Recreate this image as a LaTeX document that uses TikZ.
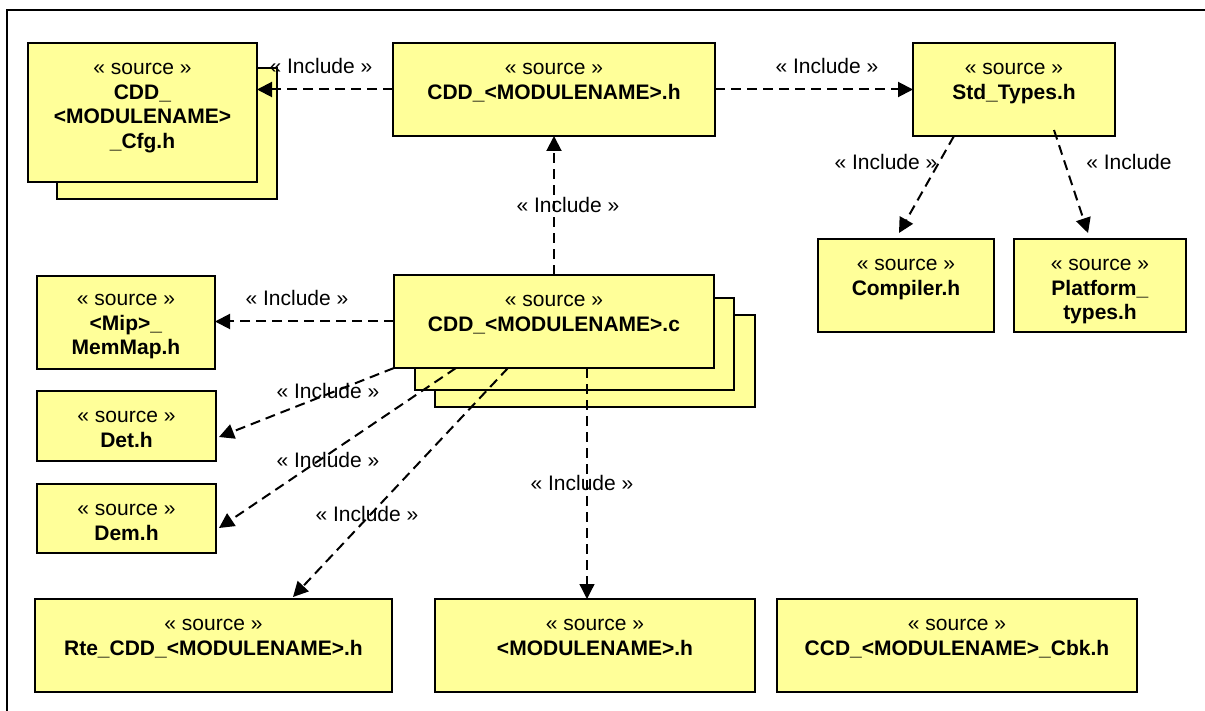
\documentclass[tikz,border=0pt]{standalone}
\usepackage{fontspec}
\setmainfont{Liberation Sans}
\usetikzlibrary{positioning,arrows.meta}
\definecolor{srcyellow}{RGB}{255,255,153}

\begin{document}
\begin{tikzpicture}[x=1pt,y=-1pt,
  >={Triangle[length=15pt,width=15pt]},
  src/.style={draw,line width=2pt,fill=srcyellow,inner sep=0pt,outer sep=0pt,anchor=north west},
  stereo/.style={anchor=north,yshift=-14.5pt,inner sep=0pt,align=center,font=\fontsize{21}{24.5}\selectfont},
  lbl/.style={font=\fontsize{21}{24.5}\selectfont,inner sep=0pt},
  inc/.style={line width=2pt,dash pattern=on 10pt off 6pt,->}]
\useasboundingbox (0,0) rectangle (1205,711);
\draw[line width=2pt] (7,10) rectangle (1215,725);

% source files
\node[src,minimum width=220pt,minimum height=131pt] (cfgback) at (57,68) {};
\node[src,minimum width=229pt,minimum height=139pt,label={[stereo]north:{\strut« source »\\\textbf{CDD\_}\\\textbf{<MODULENAME>}\\\textbf{\_Cfg.h}}}] (cfg) at (28,43) {};
\node[src,minimum width=322pt,minimum height=93pt,label={[stereo]north:{\strut« source »\\\textbf{CDD\_<MODULENAME>.h}}}] (cddh) at (393,43) {};
\node[src,minimum width=202pt,minimum height=93pt,label={[stereo]north:{\strut« source »\\\textbf{Std\_Types.h}}}] (std) at (913,43) {};
\node[src,minimum width=176pt,minimum height=93pt,label={[stereo]north:{\strut« source »\\\textbf{Compiler.h}}}] (comp) at (818,239) {};
\node[src,minimum width=172pt,minimum height=93pt,label={[stereo]north:{\strut« source »\\\textbf{Platform\_}\\\textbf{types.h}}}] (plat) at (1014,239) {};
\node[src,minimum width=320pt,minimum height=92pt] (cddcback2) at (435,315) {};
\node[src,minimum width=319pt,minimum height=92pt] (cddcback1) at (415,298) {};
\node[src,minimum width=320pt,minimum height=93pt,label={[stereo]north:{\strut« source »\\\textbf{CDD\_<MODULENAME>.c}}}] (cddc) at (394,275) {};
\node[src,minimum width=178pt,minimum height=93pt,label={[stereo,yshift=2pt]north:{\strut« source »\\\textbf{<Mip>\_}\\\textbf{MemMap.h}}}] (memmap) at (37,276) {};
\node[src,minimum width=179pt,minimum height=70pt,label={[stereo]north:{\strut« source »\\\textbf{Det.h}}}] (det) at (37,391) {};
\node[src,minimum width=179pt,minimum height=69pt,label={[stereo]north:{\strut« source »\\\textbf{Dem.h}}}] (dem) at (37,484) {};
\node[src,minimum width=357pt,minimum height=93pt,label={[stereo]north:{\strut« source »\\\textbf{Rte\_CDD\_<MODULENAME>.h}}}] (rte) at (35,599) {};
\node[src,minimum width=320pt,minimum height=93pt,label={[stereo]north:{\strut« source »\\\textbf{<MODULENAME>.h}}}] (modh) at (435,599) {};
\node[src,minimum width=360pt,minimum height=93pt,label={[stereo]north:{\strut« source »\\\textbf{CCD\_<MODULENAME>\_Cbk.h}}}] (cbk) at (777,599) {};

% include dependencies
\draw[inc] (cddh.west) -- (cddh.west -| cfg.east);
\draw[inc] (cddh.east) -- (cddh.east -| std.west);
\draw[inc] ([xshift=41pt]std.south west) -- ([xshift=-7pt,yshift=6pt]comp.north);
\draw[inc] ([xshift=-61pt,yshift=6pt]std.south east) -- ([xshift=-12pt,yshift=6pt]plat.north);
\draw[inc] (cddc.north) -- (cddc.north |- cddh.south);
\draw[inc] (cddc.west) -- (cddc.west -| memmap.east);
\draw[inc] (cddc.south west) -- ([xshift=3pt,yshift=-11pt]det.east);
\draw[inc] ([xshift=62pt]cddc.south west) -- ([xshift=3pt,yshift=-9.5pt]dem.east);
\draw[inc] ([xshift=114pt]cddc.south west) -- ([xshift=79.5pt,yshift=2pt]rte.north);
\draw[inc,line width=1.3pt] ([xshift=193pt]cddc.south west) -- ([xshift=-8pt]modh.north);

\node[lbl] (l1) at (321,66) {« Include »};
\node[lbl] (l2) at (827,66) {« Include »};
\node[lbl] (l3) at (886,162) {« Include »};
\node[lbl] (l4) at (1129,162) {« Include};
\node[lbl] (l5) at (568,205) {« Include »};
\node[lbl] (l6) at (297,298) {« Include »};
\node[lbl] (l7) at (328,391) {« Include »};
\node[lbl] (l8) at (328,460) {« Include »};
\node[lbl] (l9) at (367,514) {« Include »};
\node[lbl] (l10) at (582,483) {« Include »};
\end{tikzpicture}
\end{document}
